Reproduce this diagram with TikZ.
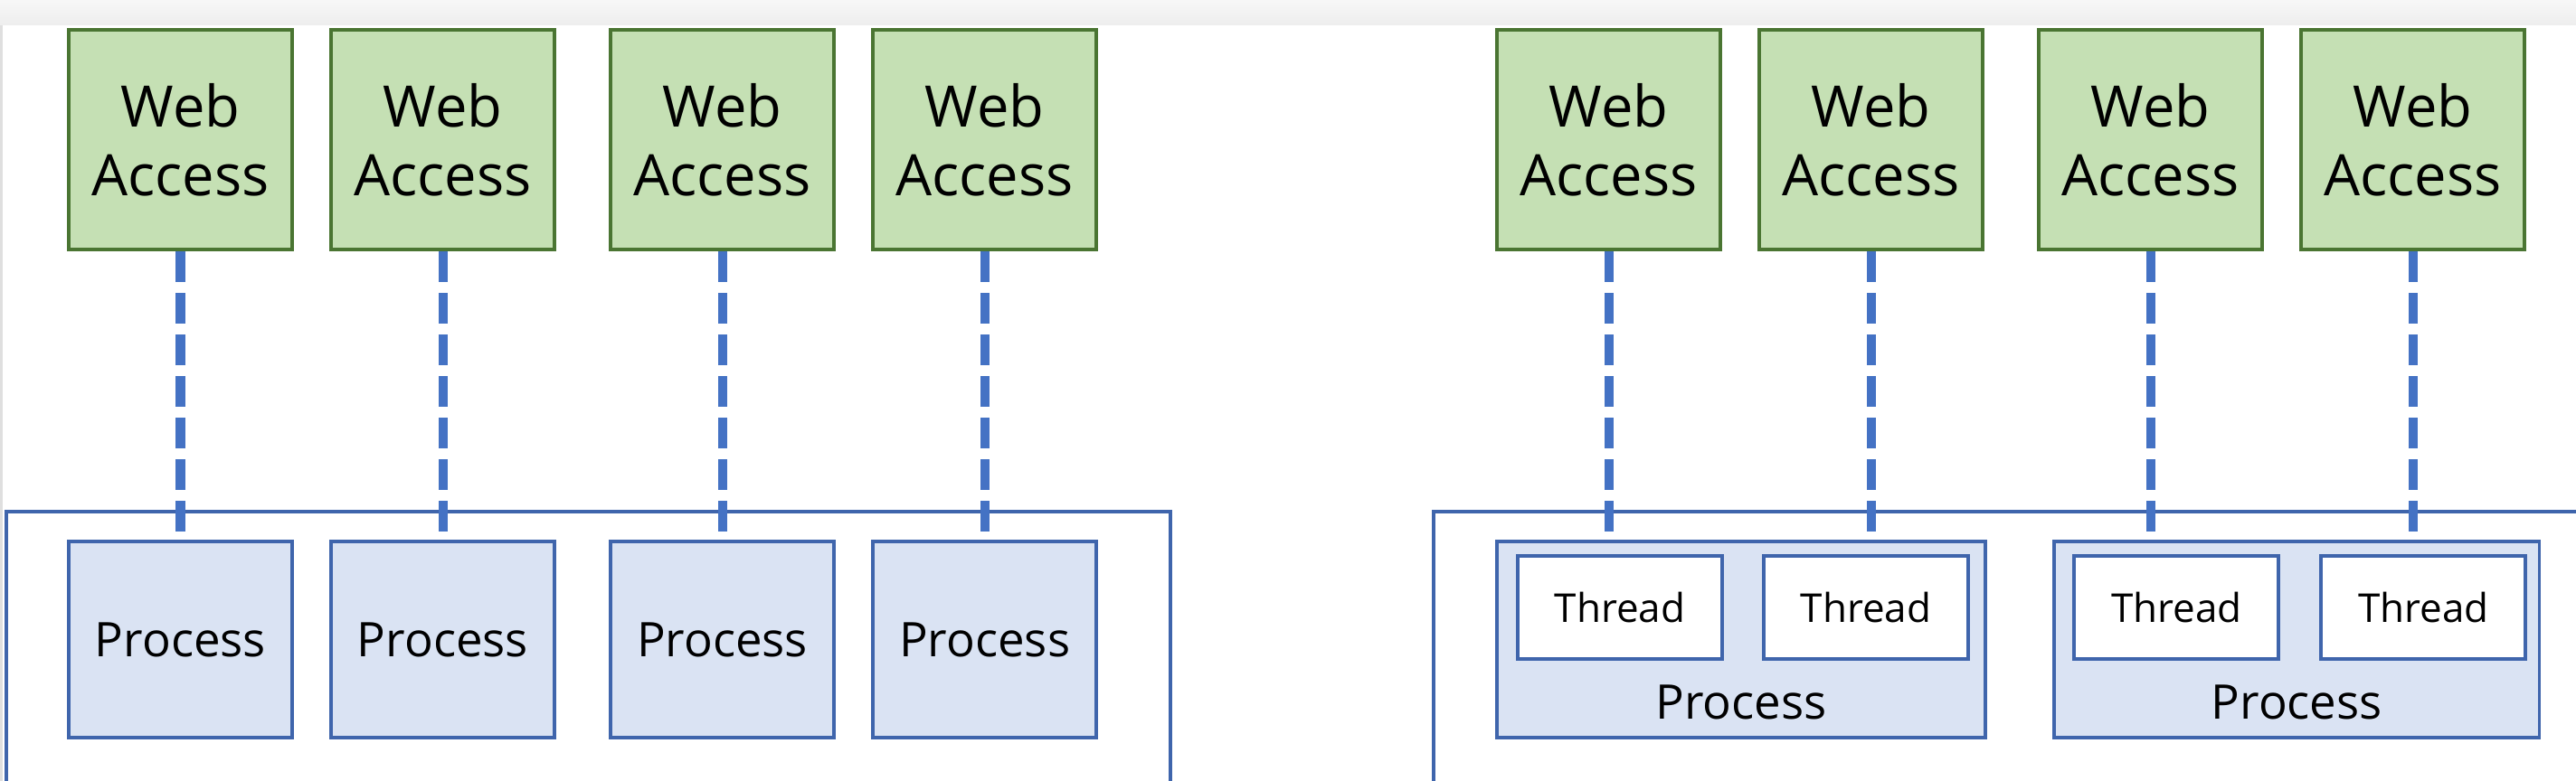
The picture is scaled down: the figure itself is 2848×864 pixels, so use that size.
\documentclass[tikz,border=0pt]{standalone}
\usepackage{fontspec}
\setmainfont{Open Sans}
\usetikzlibrary{positioning,backgrounds}

\definecolor{webgreen}{HTML}{C5E0B4}
\definecolor{webedge}{HTML}{4A7532}
\definecolor{procblue}{HTML}{DAE3F3}
\definecolor{procedge}{HTML}{3F65AC}
\definecolor{linkblue}{HTML}{4472C4}

\begin{document}
\begin{tikzpicture}[
    x=0.01cm, y=-0.01cm,
    webbox/.style={rectangle, draw=webedge, fill=webgreen, line width=1.1pt, minimum width=2.47cm, minimum height=2.43cm, inner sep=0pt, align=center, font={\fontsize{18pt}{21.6pt}\selectfont}},
    procbox/.style={rectangle, draw=procedge, fill=procblue, line width=1.1pt, minimum height=2.17cm, inner sep=0pt, font={\fontsize{15pt}{18pt}\selectfont}},
    threadbox/.style={rectangle, draw=procedge, fill=white, line width=1.1pt, minimum width=2.26cm, minimum height=1.14cm, inner sep=0pt, font={\fontsize{12.5pt}{15pt}\selectfont}},
    proclabel/.style={font={\fontsize{15pt}{18pt}\selectfont}},
    link/.style={draw=linkblue, line width=2.85pt, dash pattern=on 0.34cm off 0.12cm},
    frame/.style={draw=procedge, line width=1.1pt}
]
    \useasboundingbox (0,0) rectangle (2848,864);

    % one process per request
    \node[webbox, anchor=north west] (wl1) at (74,31) {Web\\Access};
    \node[webbox, right=0.39cm of wl1] (wl2) {Web\\Access};
    \node[webbox, right=0.58cm of wl2] (wl3) {Web\\Access};
    \node[webbox, right=0.39cm of wl3] (wl4) {Web\\Access};
    \foreach \i in {1,...,4}
        \node[procbox, minimum width=2.47cm, below=3.19cm of wl\i] (pl\i) {Process};

    % threads inside processes
    \node[webbox, anchor=north west] (wr1) at (1653,31) {Web\\Access};
    \node[webbox, right=0.39cm of wr1] (wr2) {Web\\Access};
    \node[webbox, right=0.58cm of wr2] (wr3) {Web\\Access};
    \node[webbox, right=0.39cm of wr3] (wr4) {Web\\Access};

    \node[procbox, minimum width=5.40cm, below=3.19cm of wr1.south west, anchor=north west] (pa) {};
    \node[procbox, minimum width=5.36cm, right=0.72cm of pa] (pb) {};
    \node[threadbox, below right=0.16cm and 0.23cm of pa.north west] (ta1) {Thread};
    \node[threadbox, right=0.42cm of ta1] (ta2) {Thread};
    \node[threadbox, below right=0.16cm and 0.22cm of pb.north west] (tb1) {Thread};
    \node[threadbox, right=0.43cm of tb1] (tb2) {Thread};
    \node[proclabel, above=0.23cm of pa.south, anchor=base] (pal) {Process};
    \node[proclabel, above=0.23cm of pb.south, anchor=base] (pbl) {Process};

    \begin{scope}[on background layer]
        \shade[top color=gray!6, bottom color=gray!14] (0,0) rectangle (2848,28);
        \fill[gray!25] (0,28) rectangle (3,864);
        \draw[frame] (7,870) -- (7,566) -- (1294,566) -- (1294,870);
        \draw[frame] (1585,870) -- (1585,566) -- (2860,566);
        \foreach \i in {1,...,4}
            \draw[link] (wl\i.south) -- (pl\i.north);
        \draw[link] (wr1.south) -- (wr1.south |- pa.north);
        \draw[link] (wr2.south) -- (wr2.south |- pa.north);
        \draw[link] (wr3.south) -- (wr3.south |- pb.north);
        \draw[link] (wr4.south) -- (wr4.south |- pb.north);
    \end{scope}
\end{tikzpicture}
\end{document}
